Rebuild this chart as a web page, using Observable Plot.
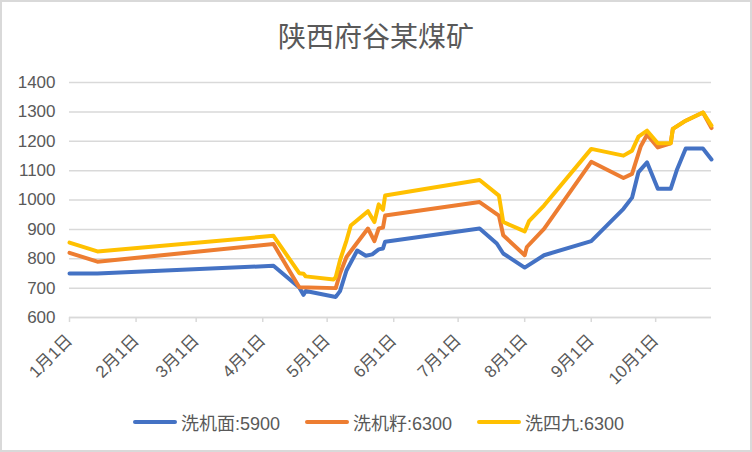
<!DOCTYPE html>
<html>
<head>
<meta charset="utf-8">
<script src="https://cdn.jsdelivr.net/npm/d3@7"></script>
<script src="https://cdn.jsdelivr.net/npm/@observablehq/plot@0.6"></script>
<style>
  body { margin: 0; background: #fff; }
  #wrap { position: relative; width: 752px; height: 452px; overflow: hidden; background: #fff;
          font-family: "Liberation Sans", "Noto Sans CJK SC", sans-serif; }
  #border { position: absolute; left: 0; top: 0; width: 752px; height: 452px; box-sizing: border-box;
            border: 2px solid #d9d9d9; pointer-events: none; }
  #title { position: absolute; left: 0; top: 20px; width: 752px; text-align: center; font-size: 28px;
           line-height: 30px; color: #595959; font-family: "Noto Sans CJK SC", sans-serif; }
  #chart { position: absolute; left: 0; top: 62px; }
  .leg { position: absolute; top: 410px; height: 24px; display: flex; align-items: center;
         font-size: 18px; color: #595959; font-family: "Liberation Sans", "Noto Sans CJK SC", sans-serif; }
  .sw { width: 44px; height: 4px; border-radius: 2px; margin-right: 4px; }
</style>
</head>
<body>
<div id="wrap">
  <div id="title">陕西府谷某煤矿</div>
  <div id="chart"></div>
  <div id="legend"></div>
  <div id="border"></div>
</div>
<script>
const year = "2021";
const seriesNames = ["洗机面:5900", "洗机籽:6300", "洗四九:6300"];
const seriesColors = ["#4472C4", "#ED7D31", "#FFC000"];

const blueDates = ["01-01","01-14","04-06","04-18","04-20","04-21","05-05","05-07","05-10","05-15","05-19","05-22","05-25","05-27","05-28","07-11","07-19","07-22","08-01","08-10","09-01","09-16","09-20","09-23","09-27","10-02","10-08","10-11","10-15","10-23","10-27"];
const blueValues = [750,750,776,702,677,690,670,690,760,828,810,815,832,835,858,903,852,818,770,812,860,970,1008,1095,1128,1038,1038,1105,1175,1175,1138];

const orangeDates = ["01-01","01-14","04-06","04-18","05-05","05-07","05-10","05-14","05-20","05-23","05-25","05-27","05-28","07-11","07-20","07-22","08-01","08-02","08-10","09-01","09-16","09-20","09-24","09-27","10-02","10-08","10-09","10-15","10-23","10-27"];
const orangeValues = [820,790,850,703,700,750,806,845,903,860,903,906,947,993,947,880,812,840,902,1130,1075,1089,1182,1222,1179,1193,1242,1270,1298,1245];

const yellowDates = ["01-01","01-14","04-06","04-18","04-20","04-21","05-04","05-05","05-07","05-10","05-12","05-14","05-20","05-23","05-25","05-27","05-28","07-11","07-20","07-22","08-01","08-03","08-10","09-01","09-16","09-20","09-23","09-27","10-02","10-08","10-09","10-15","10-23","10-27"];
const yellowValues = [855,825,878,751,749,740,729,738,795,862,913,925,962,925,985,967,1015,1068,1015,925,893,928,981,1174,1151,1168,1216,1236,1193,1193,1242,1270,1298,1253];

const yTicks = [600,700,800,900,1000,1100,1200,1300,1400];
const xTickDates = ["01-01","02-01","03-01","04-01","05-01","06-01","07-01","08-01","09-01","10-01"];
const xTickLabels = ["1月1日","2月1日","3月1日","4月1日","5月1日","6月1日","7月1日","8月1日","9月1日","10月1日"];
const xDomain = ["01-01","10-27"];

const toDate = s => new Date(`${year}-${s}T00:00:00Z`);
const build = (dates, values, name) => dates.map((d, i) => ({date: toDate(d), value: values[i], series: name}));
const allSeries = [
  build(blueDates, blueValues, seriesNames[0]),
  build(orangeDates, orangeValues, seriesNames[1]),
  build(yellowDates, yellowValues, seriesNames[2])
];
const tickDates = xTickDates.map(toDate);
const labelOf = new Map(tickDates.map((d, i) => [+d, xTickLabels[i]]));

const plot = Plot.plot({
  width: 752,
  height: 330,
  marginLeft: 69,
  marginRight: 41,
  marginTop: 20,
  marginBottom: 75,
  style: {fontFamily: '"Liberation Sans", "Noto Sans CJK SC", sans-serif', background: "transparent"},
  x: {type: "utc", domain: xDomain.map(toDate)},
  y: {domain: [600, 1400]},
  marks: [
    Plot.gridY(yTicks, {stroke: "#d9d9d9", strokeOpacity: 1, strokeWidth: 1.5}),
    Plot.ruleY([600], {stroke: "#d9d9d9", strokeWidth: 1.5}),
    Plot.axisY(yTicks, {tickSize: 0, tickPadding: 14, fontSize: 17, fill: "#595959", label: null,
      tickFormat: d => String(d)}),
    Plot.axisX(tickDates, {
      tickSize: 5, stroke: "#d9d9d9", strokeWidth: 1.5, tickPadding: 15, tickRotate: -45,
      fontSize: 17, fill: "#595959", label: null,
      tickFormat: d => labelOf.get(+d)
    }),
    ...allSeries.map((data, i) => Plot.line(data, {
      x: "date", y: "value", stroke: seriesColors[i], strokeWidth: 4,
      strokeLinejoin: "round", strokeLinecap: "round"
    }))
  ]
});
document.getElementById("chart").appendChild(plot);

const legendLefts = [133, 305, 477];
const legend = document.getElementById("legend");
seriesNames.forEach((name, i) => {
  const item = document.createElement("div");
  item.className = "leg";
  item.style.left = legendLefts[i] + "px";
  const sw = document.createElement("div");
  sw.className = "sw";
  sw.style.background = seriesColors[i];
  const tx = document.createElement("span");
  tx.textContent = name;
  item.appendChild(sw);
  item.appendChild(tx);
  legend.appendChild(item);
});
</script>
</body>
</html>
